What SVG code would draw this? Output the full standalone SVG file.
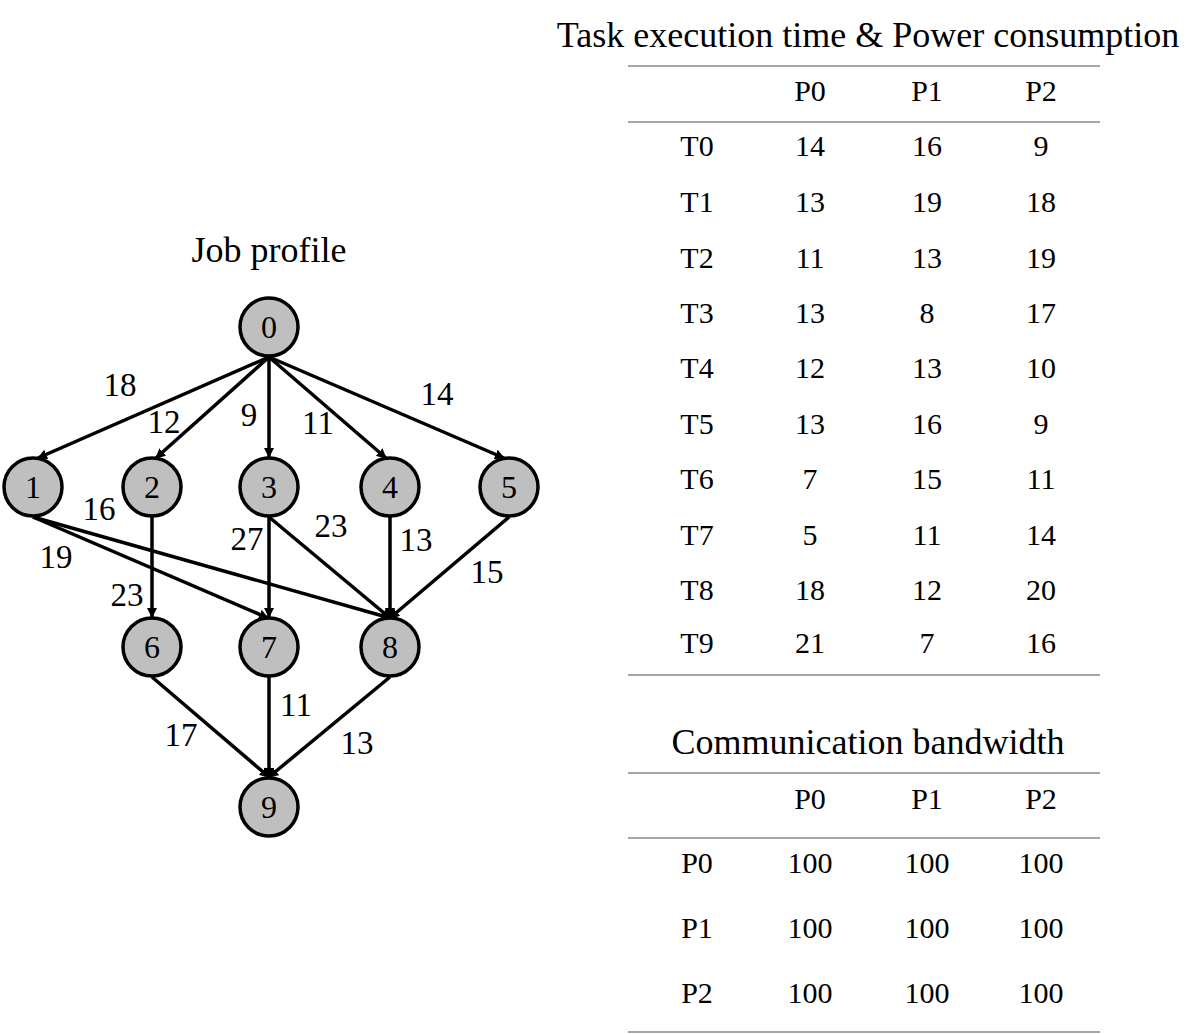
<svg xmlns="http://www.w3.org/2000/svg" width="1204" height="1034" viewBox="0 0 1204 1034">
<defs>
<marker id="arr" markerWidth="10" markerHeight="10" refX="9" refY="5" orient="auto" markerUnits="userSpaceOnUse" viewBox="0 0 10 10">
<path d="M0,0 L10,5 L0,10 z" fill="#000"/>
</marker>
<style>
text{font-family:"Liberation Serif","Times New Roman",serif;fill:#000}
.node circle{fill:#bfbfbf;stroke:#000;stroke-width:3.5}
.node text{font-size:32px;text-anchor:middle}
.edges line{stroke:#000;stroke-width:3.5;marker-end:url(#arr)}
.lbl{font-size:33px;text-anchor:middle}
.tt{font-size:36px;text-anchor:middle}
.cell{font-size:30px;text-anchor:middle}
.rule{stroke:#a6a6a6;stroke-width:2}
</style>
</defs>
<rect width="1204" height="1034" fill="#fff"/>
<text class="tt" x="269" y="262">Job profile</text>
<g class="edges">
<line x1="269" y1="357" x2="38" y2="458"/>
<line x1="269" y1="357" x2="156" y2="458"/>
<line x1="269" y1="357" x2="269" y2="457"/>
<line x1="269" y1="357" x2="386" y2="458"/>
<line x1="269" y1="357" x2="504" y2="458"/>
<line x1="33" y1="517" x2="268" y2="618"/>
<line x1="33" y1="517" x2="390" y2="618"/>
<line x1="152" y1="517" x2="152" y2="617"/>
<line x1="269" y1="517" x2="269" y2="617"/>
<line x1="269" y1="517" x2="390" y2="618"/>
<line x1="390" y1="517" x2="390" y2="617"/>
<line x1="509" y1="517" x2="390" y2="618"/>
<line x1="152" y1="677" x2="269" y2="777"/>
<line x1="269" y1="677" x2="269" y2="777"/>
<line x1="390" y1="677" x2="269" y2="777"/>
</g>
<g class="lbls">
<text class="lbl" x="120" y="396">18</text>
<text class="lbl" x="164" y="433">12</text>
<text class="lbl" x="249" y="426">9</text>
<text class="lbl" x="318" y="434">11</text>
<text class="lbl" x="437" y="405">14</text>
<text class="lbl" x="99" y="520">16</text>
<text class="lbl" x="56" y="568">19</text>
<text class="lbl" x="127" y="606">23</text>
<text class="lbl" x="247" y="550">27</text>
<text class="lbl" x="331" y="537">23</text>
<text class="lbl" x="416" y="551">13</text>
<text class="lbl" x="487" y="583">15</text>
<text class="lbl" x="181" y="746">17</text>
<text class="lbl" x="296" y="716">11</text>
<text class="lbl" x="357" y="754">13</text>
</g>
<g id="n0" class="node"><circle cx="269" cy="327" r="29"/><text x="269" y="338">0</text></g>
<g id="n1" class="node"><circle cx="33" cy="487" r="29"/><text x="33" y="498">1</text></g>
<g id="n2" class="node"><circle cx="152" cy="487" r="29"/><text x="152" y="498">2</text></g>
<g id="n3" class="node"><circle cx="269" cy="487" r="29"/><text x="269" y="498">3</text></g>
<g id="n4" class="node"><circle cx="390" cy="487" r="29"/><text x="390" y="498">4</text></g>
<g id="n5" class="node"><circle cx="509" cy="487" r="29"/><text x="509" y="498">5</text></g>
<g id="n6" class="node"><circle cx="152" cy="647" r="29"/><text x="152" y="658">6</text></g>
<g id="n7" class="node"><circle cx="269" cy="647" r="29"/><text x="269" y="658">7</text></g>
<g id="n8" class="node"><circle cx="390" cy="647" r="29"/><text x="390" y="658">8</text></g>
<g id="n9" class="node"><circle cx="269" cy="807" r="29"/><text x="269" y="818">9</text></g>
<g id="table1">
<text class="tt" x="868" y="47">Task execution time &amp; Power consumption</text>
<line class="rule" x1="628" y1="66" x2="1100" y2="66"/>
<line class="rule" x1="628" y1="122" x2="1100" y2="122"/>
<line class="rule" x1="628" y1="675" x2="1100" y2="675"/>
<g class="cell">
<text x="810" y="101">P0</text><text x="927" y="101">P1</text><text x="1041" y="101">P2</text>
<text x="697" y="156">T0</text><text x="810" y="156">14</text><text x="927" y="156">16</text><text x="1041" y="156">9</text>
<text x="697" y="212">T1</text><text x="810" y="212">13</text><text x="927" y="212">19</text><text x="1041" y="212">18</text>
<text x="697" y="268">T2</text><text x="810" y="268">11</text><text x="927" y="268">13</text><text x="1041" y="268">19</text>
<text x="697" y="323">T3</text><text x="810" y="323">13</text><text x="927" y="323">8</text><text x="1041" y="323">17</text>
<text x="697" y="378">T4</text><text x="810" y="378">12</text><text x="927" y="378">13</text><text x="1041" y="378">10</text>
<text x="697" y="434">T5</text><text x="810" y="434">13</text><text x="927" y="434">16</text><text x="1041" y="434">9</text>
<text x="697" y="489">T6</text><text x="810" y="489">7</text><text x="927" y="489">15</text><text x="1041" y="489">11</text>
<text x="697" y="545">T7</text><text x="810" y="545">5</text><text x="927" y="545">11</text><text x="1041" y="545">14</text>
<text x="697" y="600">T8</text><text x="810" y="600">18</text><text x="927" y="600">12</text><text x="1041" y="600">20</text>
<text x="697" y="653">T9</text><text x="810" y="653">21</text><text x="927" y="653">7</text><text x="1041" y="653">16</text>
</g>
</g>
<g id="table2">
<text class="tt" x="868" y="754">Communication bandwidth</text>
<line class="rule" x1="628" y1="773" x2="1100" y2="773"/>
<line class="rule" x1="628" y1="838" x2="1100" y2="838"/>
<line class="rule" x1="628" y1="1032" x2="1100" y2="1032"/>
<g class="cell">
<text x="810" y="809">P0</text><text x="927" y="809">P1</text><text x="1041" y="809">P2</text>
<text x="697" y="873">P0</text><text x="810" y="873">100</text><text x="927" y="873">100</text><text x="1041" y="873">100</text>
<text x="697" y="938">P1</text><text x="810" y="938">100</text><text x="927" y="938">100</text><text x="1041" y="938">100</text>
<text x="697" y="1003">P2</text><text x="810" y="1003">100</text><text x="927" y="1003">100</text><text x="1041" y="1003">100</text>
</g>
</g>
</svg>
